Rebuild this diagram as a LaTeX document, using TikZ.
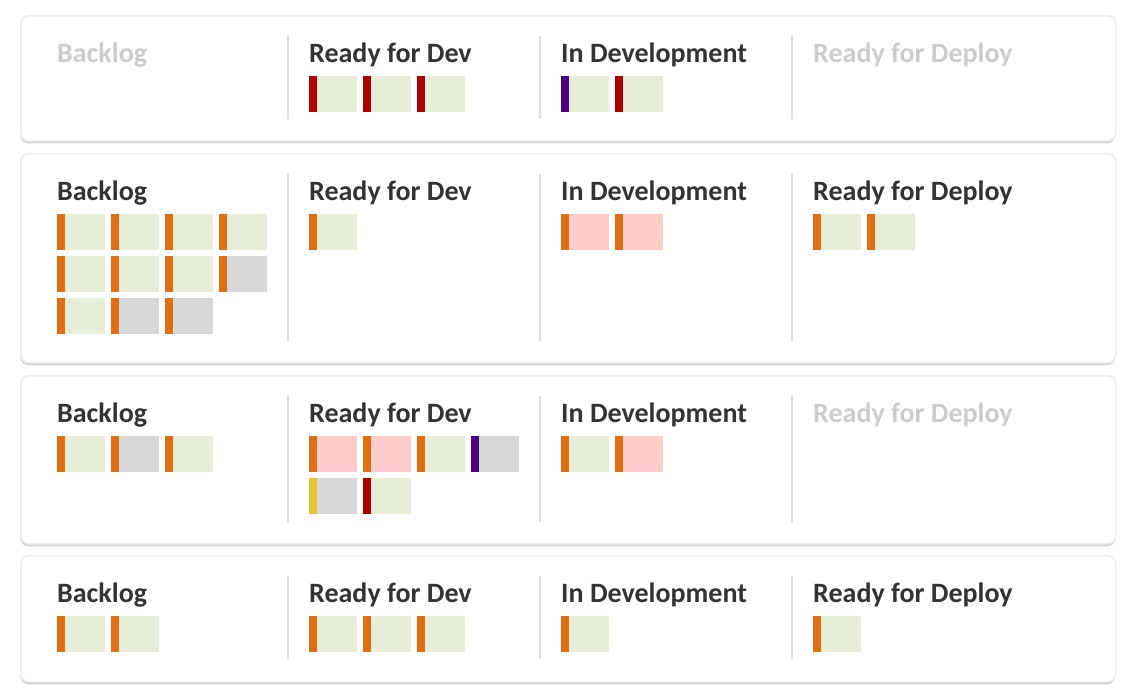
\documentclass[tikz,border=0pt]{standalone}
\usepackage{fontspec}
\setmainfont{Carlito}
\usetikzlibrary{shadows}

\definecolor{textdark}{HTML}{333333}
\definecolor{textfaded}{HTML}{CCCCCC}
\definecolor{ruleline}{HTML}{DDDDDD}
\definecolor{cardgreen}{HTML}{E7EED7}
\definecolor{cardpink}{HTML}{FFCCCC}
\definecolor{cardgray}{HTML}{D7D7D7}
\definecolor{tagorange}{HTML}{E06F14}
\definecolor{tagred}{HTML}{AE0000}
\definecolor{tagpurple}{HTML}{4F0080}
\definecolor{tagyellow}{HTML}{E3C435}

\tikzset{
	panel/.style={draw=black!7,line width=1.5pt,fill=white,rounded corners=8pt,
		anchor=north west,minimum width=1095pt,
		drop shadow={shadow xshift=-0.5pt,shadow yshift=-2.5pt,fill=black!35,opacity=0.5}},
	title/.style={anchor=base west,inner sep=0pt,font=\bfseries\fontsize{28}{32}\selectfont,text=textdark},
	faded/.style={title,text=textfaded},
	divider/.style={draw=ruleline,line width=1.5pt},
	card/.style={rectangle,anchor=north west,inner sep=0pt,minimum width=48pt,minimum height=36pt,fill=#1},
	tag/.style={path picture={\fill[#1] (path picture bounding box.north west) rectangle ([xshift=8pt]path picture bounding box.south west);}}
}

\begin{document}
\begin{tikzpicture}[x=1pt,y=-1pt]
	\useasboundingbox (0,0) rectangle (1131,699);
	
	% board 1
	\node[panel,minimum height=125pt] (p1) at (20,15) {};
	\node[faded] (p1back) at (57,62) {Backlog};
	\node[title] (p1ready) at (309,62) {Ready for Dev};
	\node[title] (p1dev) at (561,62) {In Development};
	\node[faded] (p1deploy) at (813,62) {Ready for Deploy};
	\draw[divider] (288,36)--(288,119);
	\draw[divider] (540,36)--(540,119);
	\draw[divider] (792,36)--(792,119);
	
	\node[card=cardgreen,tag=tagred] (p1r1) at (309,76) {};
	\node[card=cardgreen,tag=tagred] (p1r2) at (363,76) {};
	\node[card=cardgreen,tag=tagred] (p1r3) at (417,76) {};
	\node[card=cardgreen,tag=tagpurple] (p1d1) at (561,76) {};
	\node[card=cardgreen,tag=tagred] (p1d2) at (615,76) {};
	
	% board 2
	\node[panel,minimum height=209pt] (p2) at (20,153) {};
	\node[title] (p2back) at (57,200) {Backlog};
	\node[title] (p2ready) at (309,200) {Ready for Dev};
	\node[title] (p2dev) at (561,200) {In Development};
	\node[title] (p2deploy) at (813,200) {Ready for Deploy};
	\draw[divider] (288,174)--(288,341);
	\draw[divider] (540,174)--(540,341);
	\draw[divider] (792,174)--(792,341);
	
	\node[card=cardgreen,tag=tagorange] (p2b1) at (57,214) {};
	\node[card=cardgreen,tag=tagorange] (p2b2) at (111,214) {};
	\node[card=cardgreen,tag=tagorange] (p2b3) at (165,214) {};
	\node[card=cardgreen,tag=tagorange] (p2b4) at (219,214) {};
	\node[card=cardgreen,tag=tagorange] (p2b5) at (57,256) {};
	\node[card=cardgreen,tag=tagorange] (p2b6) at (111,256) {};
	\node[card=cardgreen,tag=tagorange] (p2b7) at (165,256) {};
	\node[card=cardgray,tag=tagorange] (p2b8) at (219,256) {};
	\node[card=cardgreen,tag=tagorange] (p2b9) at (57,298) {};
	\node[card=cardgray,tag=tagorange] (p2b10) at (111,298) {};
	\node[card=cardgray,tag=tagorange] (p2b11) at (165,298) {};
	\node[card=cardgreen,tag=tagorange] (p2r1) at (309,214) {};
	\node[card=cardpink,tag=tagorange] (p2d1) at (561,214) {};
	\node[card=cardpink,tag=tagorange] (p2d2) at (615,214) {};
	\node[card=cardgreen,tag=tagorange] (p2y1) at (813,214) {};
	\node[card=cardgreen,tag=tagorange] (p2y2) at (867,214) {};
	
	% board 3
	\node[panel,minimum height=168pt] (p3) at (20,375) {};
	\node[title] (p3back) at (57,422) {Backlog};
	\node[title] (p3ready) at (309,422) {Ready for Dev};
	\node[title] (p3dev) at (561,422) {In Development};
	\node[faded] (p3deploy) at (813,422) {Ready for Deploy};
	\draw[divider] (288,396)--(288,522);
	\draw[divider] (540,396)--(540,522);
	\draw[divider] (792,396)--(792,522);
	
	\node[card=cardgreen,tag=tagorange] (p3b1) at (57,436) {};
	\node[card=cardgray,tag=tagorange] (p3b2) at (111,436) {};
	\node[card=cardgreen,tag=tagorange] (p3b3) at (165,436) {};
	\node[card=cardpink,tag=tagorange] (p3r1) at (309,436) {};
	\node[card=cardpink,tag=tagorange] (p3r2) at (363,436) {};
	\node[card=cardgreen,tag=tagorange] (p3r3) at (417,436) {};
	\node[card=cardgray,tag=tagpurple] (p3r4) at (471,436) {};
	\node[card=cardgray,tag=tagyellow] (p3r5) at (309,478) {};
	\node[card=cardgreen,tag=tagred] (p3r6) at (363,478) {};
	\node[card=cardgreen,tag=tagorange] (p3d1) at (561,436) {};
	\node[card=cardpink,tag=tagorange] (p3d2) at (615,436) {};
	
	% board 4
	\node[panel,minimum height=126pt] (p4) at (20,555) {};
	\node[title] (p4back) at (57,602) {Backlog};
	\node[title] (p4ready) at (309,602) {Ready for Dev};
	\node[title] (p4dev) at (561,602) {In Development};
	\node[title] (p4deploy) at (813,602) {Ready for Deploy};
	\draw[divider] (288,576)--(288,659);
	\draw[divider] (540,576)--(540,659);
	\draw[divider] (792,576)--(792,659);
	
	\node[card=cardgreen,tag=tagorange] (p4b1) at (57,616) {};
	\node[card=cardgreen,tag=tagorange] (p4b2) at (111,616) {};
	\node[card=cardgreen,tag=tagorange] (p4r1) at (309,616) {};
	\node[card=cardgreen,tag=tagorange] (p4r2) at (363,616) {};
	\node[card=cardgreen,tag=tagorange] (p4r3) at (417,616) {};
	\node[card=cardgreen,tag=tagorange] (p4d1) at (561,616) {};
	\node[card=cardgreen,tag=tagorange] (p4y1) at (813,616) {};
\end{tikzpicture}
\end{document}
